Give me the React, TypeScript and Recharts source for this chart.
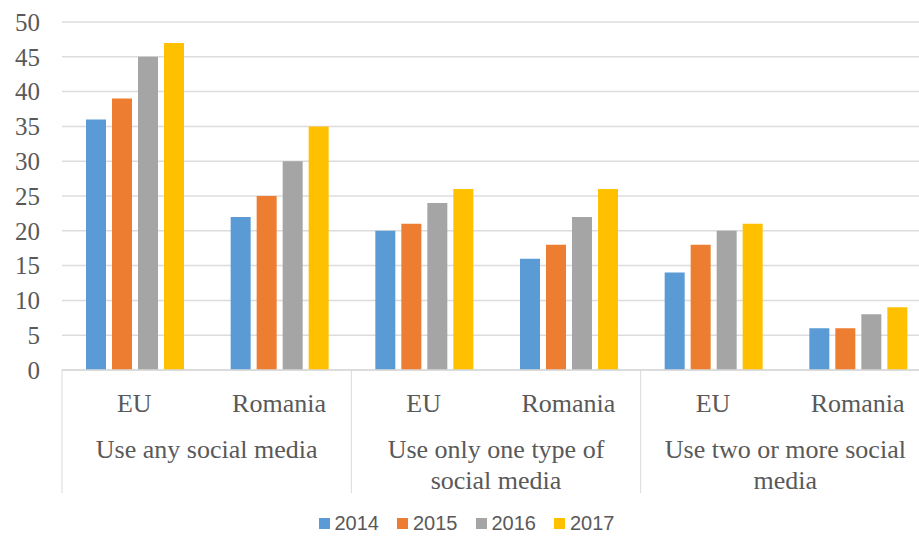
import React from "react";
import { BarChart, Bar, XAxis, YAxis, CartesianGrid, Legend } from "recharts";

const categories = ["EU", "Romania", "EU", "Romania", "EU", "Romania"];
const groupLines = [
  ["Use any social media"],
  ["Use only one type of", "social media"],
  ["Use two or more social", "media"],
];
const years = ["2014", "2015", "2016", "2017"];
const v2014 = [36, 22, 20, 16, 14, 6];
const v2015 = [39, 25, 21, 18, 18, 6];
const v2016 = [45, 30, 24, 22, 20, 8];
const v2017 = [47, 35, 26, 26, 21, 9];
const yTicks = [0, 5, 10, 15, 20, 25, 30, 35, 40, 45, 50];

const colors = ["#5B9BD5", "#ED7D31", "#A5A5A5", "#FFC000"];

const data = categories.map((c, i) => ({
  name: c,
  idx: i,
  "2014": v2014[i],
  "2015": v2015[i],
  "2016": v2016[i],
  "2017": v2017[i],
}));

const CHART_W = 930;
const CHART_H = 540;
const MARGIN = { top: 22, right: 0, bottom: 10, left: 12 };
const Y_W = 50;
const PLOT_W = CHART_W - MARGIN.left - MARGIN.right - Y_W;
const BAND = PLOT_W / categories.length;

const serif = "'Liberation Serif', 'Times New Roman', serif";
const textColor = "#595959";

function CategoryTick(props: any) {
  const { x, y, payload } = props;
  const i: number = payload?.index ?? props.index ?? 0;
  const label = categories[i];
  const isFirst = i % 2 === 0;
  const groupX = x + BAND / 2;
  return (
    <g>
      <text x={x} y={y + 42} textAnchor="middle" fontFamily={serif} fontSize={26} fill={textColor}>
        {label}
      </text>
      {isFirst && (
        <>
          <line x1={x - BAND / 2} x2={x - BAND / 2} y1={y} y2={y + 123} stroke="#d9d9d9" strokeWidth={1} />
          <text x={groupX} y={y + 88} textAnchor="middle" fontFamily={serif} fontSize={26} fill={textColor}>
            {groupLines[i / 2].map((ln, k) => (
              <tspan key={k} x={groupX} dy={k === 0 ? 0 : 31}>
                {ln}
              </tspan>
            ))}
          </text>
        </>
      )}
      {i === categories.length - 1 && (
        <line x1={x + BAND / 2} x2={x + BAND / 2} y1={y} y2={y + 123} stroke="#d9d9d9" strokeWidth={1} />
      )}
    </g>
  );
}

function LegendContent() {
  return (
    <div style={{ display: "flex", justifyContent: "center", alignItems: "center", width: 919, paddingLeft: 14, boxSizing: "border-box" }}>
      {years.map((yr, k) => (
        <div key={yr} style={{ display: "flex", alignItems: "center", marginRight: k < years.length - 1 ? 18 : 0 }}>
          <div style={{ width: 11, height: 11, background: colors[k], marginRight: 5 }} />
          <span style={{ fontFamily: "'Liberation Sans', Arial, sans-serif", fontSize: 20, color: textColor, lineHeight: "22px" }}>
            {yr}
          </span>
        </div>
      ))}
    </div>
  );
}

export default function App() {
  return (
    <div style={{ position: "absolute", left: 0, top: 0, width: 919, height: 540, overflow: "hidden", background: "#fff" }}>
      <BarChart width={CHART_W} height={CHART_H} data={data} margin={MARGIN} barCategoryGap={24} barGap={6}>
        <CartesianGrid vertical={false} stroke="#dcdcdc" strokeWidth={1.5} />
        <XAxis
          dataKey="idx"
          type="category"
          tick={<CategoryTick />}
          tickLine={false}
          axisLine={{ stroke: "#d9d9d9", strokeWidth: 1.5 }}
          tickSize={0}
          tickMargin={0}
          height={138}
          interval={0}
        />
        <YAxis
          width={Y_W}
          domain={[0, 50]}
          ticks={yTicks}
          interval={0}
          axisLine={false}
          tickLine={false}
          tickSize={0}
          tickMargin={22}
          tick={{ fontFamily: serif, fontSize: 25, fill: textColor }}
        />
        <Legend verticalAlign="bottom" height={0} content={<LegendContent />} wrapperStyle={{ left: 0, bottom: 6 }} />
        {years.map((yr, k) => (
          <Bar key={yr} dataKey={yr} fill={colors[k]} isAnimationActive={false} />
        ))}
      </BarChart>
    </div>
  );
}
